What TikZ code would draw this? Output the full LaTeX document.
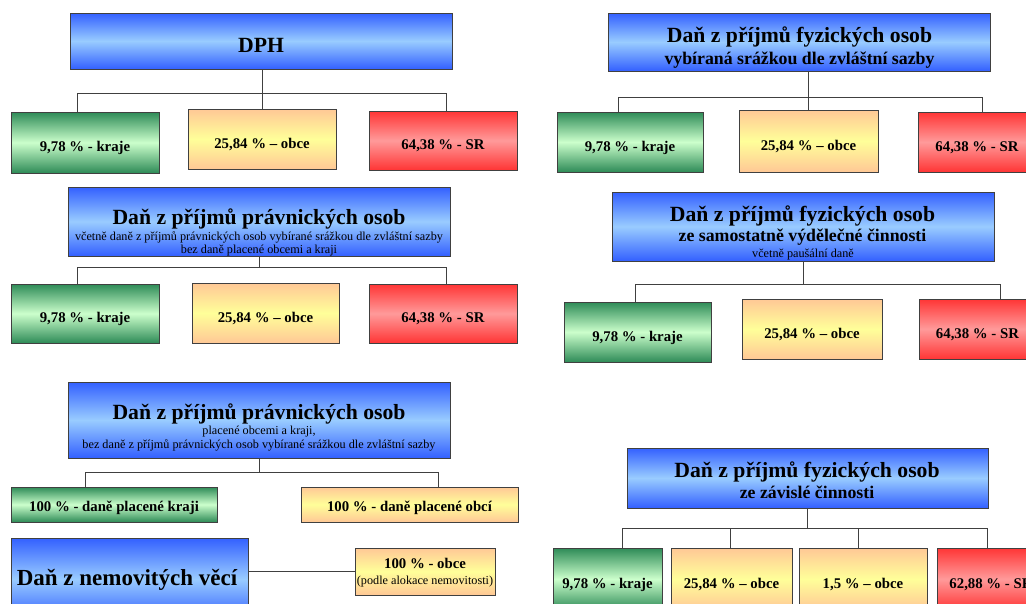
\documentclass[tikz,border=0pt]{standalone}
\usepackage{fontspec}
\setmainfont{Liberation Serif}
\usetikzlibrary{positioning}
\definecolor{modra}{HTML}{3360ff}
\definecolor{modrasv}{HTML}{99ccff}
\definecolor{zelena}{HTML}{2e8b57}
\definecolor{zelenasv}{HTML}{ccffcc}
\definecolor{oranz}{HTML}{ffc896}
\definecolor{oranzsv}{HTML}{ffff99}
\definecolor{cervena}{HTML}{ff3535}
\definecolor{cervenasv}{HTML}{ff9a9a}
\definecolor{linka}{HTML}{404040}
\newcommand{\hlavni}{\fontsize{21.7}{24}\selectfont\bfseries}
\newcommand{\stredni}{\fontsize{17.8}{20}\selectfont\bfseries}
\newcommand{\drobny}{\fontsize{12.2}{14}\selectfont}
\newcommand{\podil}{\fontsize{14.8}{17}\selectfont\bfseries}
\tikzstyle{hlava}=[rectangle,
                   draw=linka,
                   line width=0.8pt,
                   top color=modra, bottom color=modra, middle color=modrasv
                  ]
\tikzstyle{kraj}=[rectangle, draw=linka, line width=0.8pt,
                  top color=zelena, bottom color=zelena, middle color=zelenasv,
                  font=\podil, text height=22pt, text depth=3.5pt]
\tikzstyle{obec}=[rectangle, draw=linka, line width=0.8pt,
                  top color=oranz, bottom color=oranz, middle color=oranzsv,
                  font=\podil, text height=22pt, text depth=3.5pt]
\tikzstyle{stat}=[rectangle, draw=linka, line width=0.8pt,
                  top color=cervena, bottom color=cervena, middle color=cervenasv,
                  font=\podil, text height=22pt, text depth=3.5pt]
\tikzstyle{radek}=[anchor=base, inner sep=0pt]
\tikzstyle{vetev}=[draw=linka, line width=0.8pt]

\begin{document}
\begin{tikzpicture}[x=1pt, y=-1pt]
  \useasboundingbox (0,0) rectangle (1026,603);
  \clip (0,0) rectangle (1026,603);

  \node at (261, 41) (dph) [hlava, minimum width=382, minimum height=56] {};
  \node at (261, 52) (dph1) [radek, font=\hlavni] {DPH};
  \node at (85, 142.5) (dk) [kraj, minimum width=148, minimum height=61] {9,78 \% - kraje};
  \node at (262, 139) (do) [obec, minimum width=148, minimum height=60] {25,84 \% -- obce};
  \node at (443, 140.5) (ds) [stat, minimum width=148, minimum height=59] {64,38 \% - SR};
  \coordinate (dl) at (77, 93);
  \coordinate (dr) at (446, 93);
  \draw[vetev] (dl) -- (dr);
  \draw[vetev] (do.north |- dph.south) -- (do.north);
  \draw[vetev] (dl) -- (dl |- dk.north);
  \draw[vetev] (dr) -- (dr |- ds.north);

  \node at (799, 42) (fs) [hlava, minimum width=382, minimum height=58] {};
  \node at (799.5, 42) (fs1) [radek, font=\hlavni] {Daň z příjmů fyzických osob};
  \node at (799.5, 64) (fs2) [radek, font=\stredni] {vybíraná srážkou dle zvláštní sazby};
  \node at (630, 142) (fsk) [kraj, minimum width=146, minimum height=60] {9,78 \% - kraje};
  \node at (808.5, 141) (fso) [obec, minimum width=139, minimum height=62] {25,84 \% -- obce};
  \node at (977, 142) (fss) [stat, minimum width=118, minimum height=60] {64,38 \% - SR};
  \coordinate (fsl) at (618, 97);
  \coordinate (fsr) at (982, 97);
  \draw[vetev] (fsl) -- (fsr);
  \draw[vetev] (fs.south -| fso.north) -- (fso.north);
  \draw[vetev] (fsl) -- (fsl |- fsk.north);
  \draw[vetev] (fsr) -- (fsr |- fss.north);

  \node at (259, 221.5) (pp) [hlava, minimum width=382, minimum height=69] {};
  \node at (259, 224) (pp1) [radek, font=\hlavni] {Daň z příjmů právnických osob};
  \node at (259, 240) (pp2) [radek, font=\drobny] {včetně daně z příjmů právnických osob vybírané srážkou dle zvláštní sazby};
  \node at (259, 253) (pp3) [radek, font=\drobny] {bez daně placené obcemi a kraji};
  \node at (85, 313.5) (ppk) [kraj, minimum width=148, minimum height=59] {9,78 \% - kraje};
  \node at (265.5, 313) (ppo) [obec, minimum width=147, minimum height=60] {25,84 \% -- obce};
  \node at (443, 313.5) (pps) [stat, minimum width=148, minimum height=59] {64,38 \% - SR};
  \coordinate (ppl) at (77, 267);
  \coordinate (ppr) at (446, 267);
  \draw[vetev] (ppl) -- (ppr);
  \draw[vetev] (pp.south) -- (pp.south |- ppl);
  \draw[vetev] (ppl) -- (ppl |- ppk.north);
  \draw[vetev] (ppr) -- (ppr |- pps.north);

  \node at (803, 226.5) (fv) [hlava, minimum width=382, minimum height=69] {};
  \node at (802.5, 221) (fv1) [radek, font=\hlavni] {Daň z příjmů fyzických osob};
  \node at (802.5, 241) (fv2) [radek, font=\stredni] {ze samostatně výdělečné činnosti};
  \node at (803, 257) (fv3) [radek, font=\drobny] {včetně paušální daně};
  \node at (637.5, 332) (fvk) [kraj, minimum width=147, minimum height=60] {9,78 \% - kraje};
  \node at (812, 329) (fvo) [obec, minimum width=140, minimum height=60] {25,84 \% -- obce};
  \node at (977.5, 329) (fvs) [stat, minimum width=117, minimum height=60] {64,38 \% - SR};
  \coordinate (fvl) at (635, 284);
  \coordinate (fvr) at (1000, 284);
  \draw[vetev] (fvl) -- (fvr);
  \draw[vetev] (fv.south) -- (fv.south |- fvl);
  \draw[vetev] (fvl) -- (fvl |- fvk.north);
  \draw[vetev] (fvr) -- (fvr |- fvs.north);

  \node at (259, 420) (po) [hlava, minimum width=382, minimum height=76] {};
  \node at (259, 419) (po1) [radek, font=\hlavni] {Daň z příjmů právnických osob};
  \node at (259, 434) (po2) [radek, font=\drobny] {placené obcemi a kraji,};
  \node at (259, 448) (po3) [radek, font=\drobny] {bez daně z příjmů právnických osob vybírané srážkou dle zvláštní sazby};
  \node at (114, 504.5) (pok) [kraj, minimum width=206, minimum height=35, text height=18pt] {100 \% - daně placené kraji};
  \node at (409.5, 504.5) (poo) [obec, minimum width=217, minimum height=35, text height=18pt] {100 \% - daně placené obcí};
  \coordinate (pol) at (85, 472);
  \coordinate (por) at (438, 472);
  \draw[vetev] (pol) -- (por);
  \draw[vetev] (po.south) -- (po.south |- pol);
  \draw[vetev] (pol) -- (pol |- pok.north);
  \draw[vetev] (por) -- (por |- poo.north);

  \node at (129.5, 579) (nv) [hlava, minimum width=237, minimum height=82] {};
  \node at (127, 585) (nv1) [radek, font=\fontsize{23}{25}\selectfont\bfseries] {Daň z nemovitých věcí};
  \node at (425, 571.5) (nvo) [obec, minimum width=140, minimum height=47] {};
  \node at (425, 568) (nvo1) [radek, font=\podil] {100 \% - obce};
  \node at (425, 584) (nvo2) [radek, font=\drobny] {(podle alokace nemovitosti)};
  \draw[vetev] (nvo.west) -- (nvo.west -| nv.east);

  \node at (807.5, 478) (fz) [hlava, minimum width=361, minimum height=60] {};
  \node at (807, 477) (fz1) [radek, font=\hlavni] {Daň z příjmů fyzických osob};
  \node at (807, 498) (fz2) [radek, font=\stredni] {ze závislé činnosti};
  \node at (607.5, 579) (fzk) [kraj, minimum width=109, minimum height=62] {9,78 \% - kraje};
  \node at (731.5, 579) (fzo) [obec, minimum width=121, minimum height=62] {25,84 \% -- obce};
  \node at (863, 579) (fzp) [obec, minimum width=128, minimum height=62] {1,5 \% -- obce};
  \node at (991, 579) (fzs) [stat, minimum width=108, minimum height=62] {62,88 \% - SR};
  \coordinate (fzl) at (622, 528);
  \coordinate (fzr) at (987, 528);
  \coordinate (fzc) at (730, 528);
  \coordinate (fzd) at (858, 528);
  \draw[vetev] (fzl) -- (fzr);
  \draw[vetev] (fz.south) -- (fz.south |- fzl);
  \draw[vetev] (fzl) -- (fzl |- fzk.north);
  \draw[vetev] (fzc) -- (fzc |- fzo.north);
  \draw[vetev] (fzd) -- (fzd |- fzp.north);
  \draw[vetev] (fzr) -- (fzr |- fzs.north);
\end{tikzpicture}
\end{document}
